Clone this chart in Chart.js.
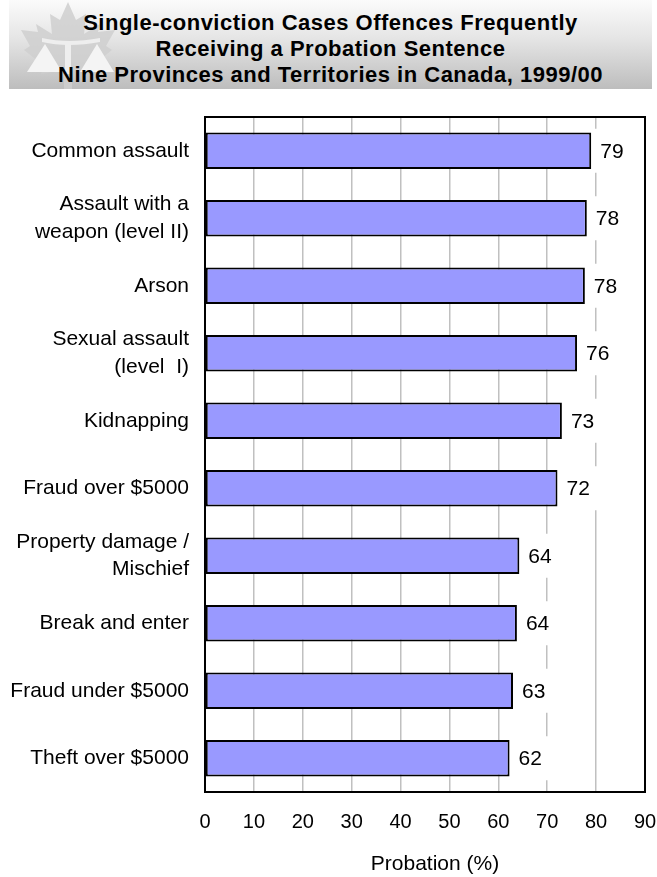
<!DOCTYPE html>
<html>
<head>
<meta charset="utf-8">
<script src="https://cdn.jsdelivr.net/npm/chart.js@4.4.1/dist/chart.umd.min.js"></script>
<style>
  html, body { margin: 0; padding: 0; background: #fff; }
  body { width: 657px; height: 877px; position: relative; overflow: hidden; font-family: "Liberation Sans", Arial, sans-serif; }
  #header {
    position: absolute; left: 9px; top: 0; width: 643px; height: 89px;
    background: linear-gradient(#fbfbfb, #e4e4e4 45%, #bdbdbd);
  }
  #logo { position: absolute; left: -9px; top: 0; }
  #title {
    position: absolute; left: 0; top: 10px; width: 100%;
    text-align: center; font-weight: bold; font-size: 22px; line-height: 26px;
    letter-spacing: 0.5px; color: #000;
  }
  #wrap { position: absolute; left: 0; top: 0; width: 657px; height: 877px; }
</style>
</head>
<body>
<div id="header">
  <svg id="logo" width="130" height="89">
    <path d="M68,2 L76,20 L86,14 L84,34 L100,24 L98,32 L115,30 L106,46 L112,50 L92,66 L95,74 L72,70 L72,89 L64,89 L64,70 L41,74 L44,66 L24,50 L30,46 L21,30 L38,32 L36,24 L52,34 L50,14 L60,20 Z" fill="#cfcfcf" opacity="0.85"/>
    <path d="M45,44 L62,72 L27,72 Z" fill="#f4f4f4"/>
    <path d="M97,44 L114,72 L80,72 Z" fill="#f4f4f4"/>
    <path d="M42,38 Q68,44 100,38 L100,42 Q68,48 42,42 Z" fill="#eeeeee"/>
    <rect x="65" y="42" width="6" height="32" fill="#eeeeee"/>
  </svg>
  <div id="title">Single-conviction Cases Offences Frequently<br>Receiving a Probation Sentence<br>Nine Provinces and Territories in Canada, 1999/00</div>
</div>
<div id="wrap"><canvas id="myChart" width="657" height="877"></canvas></div>
<script>
// du lieu bieu do
const offences = [
  "Common assault",
  ["Assault with a", "weapon (level II)"],
  "Arson",
  ["Sexual assault", "(level  I)"],
  "Kidnapping",
  "Fraud over $5000",
  ["Property damage /", "Mischief"],
  "Break and enter",
  "Fraud under $5000",
  "Theft over $5000"
];
const probation = [79, 78.1, 77.7, 76.1, 73, 72.1, 64.3, 63.8, 63, 62.3];
const xTicks = [0, 10, 20, 30, 40, 50, 60, 70, 80, 90];
const axisTitle = "Probation (%)";

const FONT = "'Liberation Sans', Arial, sans-serif";

// khung vien quanh vung ve + nhan gia tri
const boxPlugin = {
  id: 'boxPlugin',
  afterDatasetsDraw(chart) {
    const ctx = chart.ctx;
    const meta = chart.getDatasetMeta(0);
    ctx.save();
    ctx.font = "21px " + FONT;
    ctx.textBaseline = 'middle';
    ctx.textAlign = 'left';
    meta.data.forEach(function (bar, i) {
      const txt = String(Math.round(probation[i]));
      const w = ctx.measureText(txt).width;
      const x0 = bar.x + 9;
      ctx.fillStyle = '#fff';
      ctx.fillRect(bar.x + 2, bar.y - 22, w + 15, 44);
      ctx.fillStyle = '#000';
      ctx.fillText(txt, x0, bar.y + 1);
    });
    ctx.restore();
  },
  afterDraw(chart) {
    const a = chart.chartArea;
    const ctx = chart.ctx;
    ctx.save();
    ctx.strokeStyle = '#000';
    ctx.lineWidth = 2;
    ctx.strokeRect(a.left, a.top, a.right - a.left, a.bottom - a.top);
    ctx.font = "21px " + FONT;
    ctx.fillStyle = '#000';
    ctx.textAlign = 'center';
    ctx.textBaseline = 'middle';
    ctx.fillText(axisTitle, 435, 864);
    ctx.restore();
  }
};

const ctx = document.getElementById('myChart').getContext('2d');
const myChart = new Chart(ctx, {
  type: 'bar',
  data: {
    labels: offences,
    datasets: [{
      label: axisTitle,
      data: probation,
      backgroundColor: '#9999ff',
      borderColor: '#000',
      borderWidth: 2,
      borderSkipped: false,
      categoryPercentage: 1,
      barPercentage: 0.54
    }]
  },
  options: {
    indexAxis: 'y',
    responsive: false,
    animation: false,
    devicePixelRatio: 1,
    layout: { padding: { left: 0, right: 12, top: 117, bottom: 0 } },
    plugins: {
      legend: { display: false },
      tooltip: { enabled: false }
    },
    scales: {
      x: {
        min: 0,
        max: 90,
        afterBuildTicks: function (scale) {
          scale.ticks = xTicks.map(v => ({ value: v }));
        },
        afterFit: function (scale) {
          scale.height = 85;
          scale.paddingLeft = 0;
          scale.paddingRight = 0;
        },
        grid: { color: '#c0c0c0', lineWidth: 1.5, drawTicks: false },
        border: { display: false },
        ticks: { color: '#000', padding: 18, font: { family: FONT, size: 20 }, maxRotation: 0 }
      },
      y: {
        afterFit: function (scale) { scale.width = 205; },
        grid: { display: false, drawTicks: false },
        border: { display: false },
        ticks: { color: '#000', padding: 16, autoSkip: false, font: { family: FONT, size: 21, lineHeight: 1.3 } }
      }
    }
  },
  plugins: [boxPlugin]
});
</script>
</body>
</html>
